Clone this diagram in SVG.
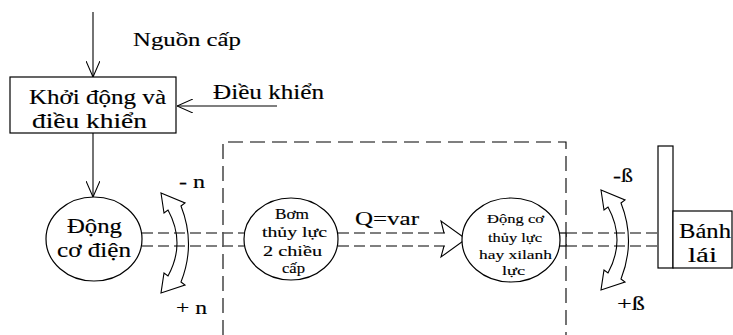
<svg xmlns="http://www.w3.org/2000/svg" width="733" height="335" viewBox="0 0 733 335" font-family="'Liberation Serif', 'Times New Roman', serif">
  <style>
    .t { font-family: "Liberation Serif", "Times New Roman", serif; fill: #000; stroke: #000; stroke-width: 0.15; }
    .box { fill: #fff; stroke: #000; stroke-width: 1.2; }
    .ln { fill: none; stroke: #000; stroke-width: 1.1; }
    .shaft { fill: none; stroke: #555; stroke-width: 1.5; stroke-dasharray: 11 5; }
    .frame { fill: none; stroke: #000; stroke-width: 1.1; stroke-dasharray: 15 7; }
    .rot { fill: none; stroke: #000; stroke-width: 1.1; stroke-linejoin: miter; }
  </style>
  <defs>
    <marker id="open" viewBox="0 0 16 14" refX="16" refY="7" markerWidth="16" markerHeight="14" markerUnits="userSpaceOnUse" orient="auto">
      <path d="M0,0 L16,7 L0,14" fill="none" stroke="#000" stroke-width="1.1"/>
    </marker>
    <!-- curved double-headed rotation arrow -->
    <path id="rotArrow" d="M161,193 L185,203 L181,206 Q196,244 181,282 L185,285 L161,293 L164,273 L168,276 Q186,243 168,210 L164,213 Z"/>
  </defs>

  <!-- control section of the hydraulic frame -->
  <path class="frame" d="M223,335 V142 H566 V335"/>

  <g id="connectors">
    <line class="ln" x1="93" y1="12" x2="93" y2="77" marker-end="url(#open)"/>
    <line class="ln" x1="277" y1="106" x2="177" y2="106" marker-end="url(#open)"/>
    <line class="ln" x1="93" y1="133" x2="93" y2="197" marker-end="url(#open)"/>
    <!-- shafts -->
    <line class="shaft" x1="142" y1="233" x2="244" y2="233"/>
    <line class="shaft" x1="142" y1="246" x2="244" y2="246"/>
    <line class="shaft" x1="338" y1="233" x2="445" y2="233"/>
    <line class="shaft" x1="338" y1="246" x2="445" y2="246"/>
    <line class="shaft" x1="566" y1="233" x2="658" y2="233"/>
    <line class="shaft" x1="566" y1="246" x2="658" y2="246"/>
    <!-- flow arrow head -->
    <path class="ln" d="M444,233 L441,221 L466,239 L441,257 L444,246"/>
  </g>

  <g id="rot-n">
    <use href="#rotArrow" class="rot"/>
    <text class="t" x="179" y="188" font-size="19" textLength="26" lengthAdjust="spacingAndGlyphs">- n</text>
    <text class="t" x="176" y="314" font-size="19" textLength="31" lengthAdjust="spacingAndGlyphs">+ n</text>
  </g>

  <g id="rot-beta">
    <use href="#rotArrow" class="rot" transform="translate(440,-3)"/>
    <text class="t" x="613" y="182" font-size="19" textLength="20" lengthAdjust="spacingAndGlyphs">-ß</text>
    <text class="t" x="617" y="310" font-size="19" textLength="28" lengthAdjust="spacingAndGlyphs">+ß</text>
  </g>

  <g id="nguon-cap">
    <text class="t" x="133" y="46" font-size="19" textLength="108" lengthAdjust="spacingAndGlyphs">Nguồn cấp</text>
  </g>

  <g id="dieu-khien">
    <text class="t" x="213" y="99" font-size="20" textLength="111" lengthAdjust="spacingAndGlyphs">Điều khiển</text>
  </g>

  <g id="khoi-dong">
    <rect class="box" x="10" y="77" width="166" height="56"/>
    <text class="t" x="29" y="104" font-size="20" textLength="137" lengthAdjust="spacingAndGlyphs">Khởi động và</text>
    <text class="t" x="32" y="128" font-size="20" textLength="115" lengthAdjust="spacingAndGlyphs">điều khiển</text>
  </g>

  <g id="dong-co-dien">
    <ellipse class="box" cx="94" cy="239" rx="48" ry="42"/>
    <text class="t" x="67" y="233" font-size="20" textLength="55" lengthAdjust="spacingAndGlyphs">Động</text>
    <text class="t" x="57" y="257" font-size="20" textLength="74" lengthAdjust="spacingAndGlyphs">cơ điện</text>
  </g>

  <g id="bom">
    <ellipse class="box" cx="291" cy="239" rx="47" ry="41"/>
    <text class="t" x="275" y="219" font-size="15" textLength="34" lengthAdjust="spacingAndGlyphs">Bơm</text>
    <text class="t" x="262" y="237" font-size="15" textLength="65" lengthAdjust="spacingAndGlyphs">thủy lực</text>
    <text class="t" x="263" y="256" font-size="15" textLength="59" lengthAdjust="spacingAndGlyphs">2 chiều</text>
    <text class="t" x="282" y="273" font-size="15" textLength="23" lengthAdjust="spacingAndGlyphs">cấp</text>
  </g>

  <g id="q-label">
    <text class="t" x="355" y="225" font-size="19" textLength="64" lengthAdjust="spacingAndGlyphs">Q=var</text>
  </g>

  <g id="dong-co-thuy-luc">
    <rect class="box" x="559" y="233" width="7" height="13"/>
    <ellipse class="box" cx="511" cy="240" rx="49" ry="42"/>
    <text class="t" x="487" y="223" font-size="13.5" textLength="57" lengthAdjust="spacingAndGlyphs">Động cơ</text>
    <text class="t" x="488" y="242" font-size="13.5" textLength="54" lengthAdjust="spacingAndGlyphs">thủy lực</text>
    <text class="t" x="479" y="259" font-size="13.5" textLength="73" lengthAdjust="spacingAndGlyphs">hay xilanh</text>
    <text class="t" x="502" y="275" font-size="13.5" textLength="23" lengthAdjust="spacingAndGlyphs">lực</text>
  </g>

  <g id="banh-lai">
    <rect class="box" x="658" y="146" width="15" height="122"/>
    <rect class="box" x="673" y="211" width="59" height="57"/>
    <text class="t" x="679" y="238" font-size="22" textLength="52" lengthAdjust="spacingAndGlyphs">Bánh</text>
    <text class="t" x="688" y="262" font-size="22" textLength="29" lengthAdjust="spacingAndGlyphs">lái</text>
  </g>
</svg>
